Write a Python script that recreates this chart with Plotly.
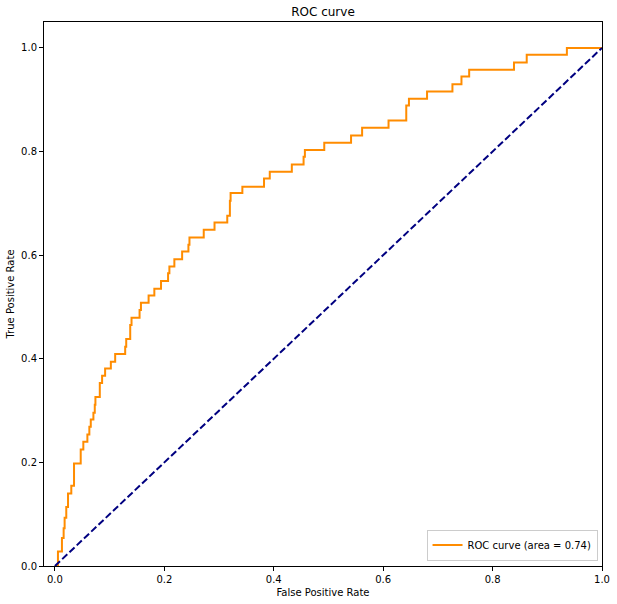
import plotly.graph_objects as go

# ROC step corners (false positive rate, true positive rate)
fpr = [0.0, 0.0055, 0.0128, 0.0159, 0.0177, 0.0207, 0.0239, 0.0299, 0.0349,
       0.0471, 0.0519, 0.0593, 0.0629, 0.0655, 0.0703, 0.0728, 0.0740, 0.0820,
       0.0862, 0.0917, 0.1022, 0.1101, 0.1284, 0.1303, 0.1376, 0.1400, 0.1547,
       0.1572, 0.1712, 0.1817, 0.1939, 0.2068, 0.2092, 0.2183, 0.2325, 0.2440,
       0.2459, 0.2720, 0.2917, 0.3150, 0.3198, 0.3211, 0.3426, 0.3822, 0.3927,
       0.4330, 0.4545, 0.4569, 0.4923, 0.5413, 0.5615, 0.6098, 0.6422, 0.6471,
       0.6802, 0.7266, 0.7431, 0.7572, 0.8391, 0.8624, 0.9358, 1.0]
tpr = [0.0, 0.028, 0.054, 0.073, 0.093, 0.114, 0.140, 0.155, 0.198,
       0.225, 0.240, 0.254, 0.269, 0.283, 0.296, 0.311, 0.326, 0.353,
       0.367, 0.381, 0.394, 0.409, 0.423, 0.438, 0.465, 0.479, 0.494,
       0.508, 0.522, 0.535, 0.550, 0.565, 0.578, 0.592, 0.607, 0.620,
       0.634, 0.649, 0.663, 0.676, 0.705, 0.720, 0.732, 0.748, 0.761,
       0.775, 0.790, 0.803, 0.817, 0.831, 0.846, 0.860, 0.889, 0.902,
       0.916, 0.930, 0.945, 0.958, 0.972, 0.987, 1.0, 1.0]
roc_auc = 0.74
chance = [0.0, 1.0]
ticks = [0.0, 0.2, 0.4, 0.6, 0.8, 1.0]

FONT = "DejaVu Sans, sans-serif"

fig = go.Figure()
fig.add_trace(go.Scatter(
    x=fpr, y=tpr, mode="lines", line=dict(color="darkorange", width=2, shape="hv"),
    name=f"ROC curve (area = {roc_auc:.2f})"))
fig.add_trace(go.Scatter(
    x=chance, y=chance, mode="lines", showlegend=False,
    line=dict(color="navy", width=2, dash="7px,3px")))

axis = dict(showline=True, mirror=True, linecolor="black", linewidth=1,
            ticks="outside", ticklen=4, tickcolor="black", showgrid=False,
            zeroline=False, tickvals=ticks, tickformat=".1f", automargin=False,
            tickfont=dict(size=10, color="black"))
fig.update_layout(
    width=617, height=604, paper_bgcolor="white", plot_bgcolor="white",
    font=dict(family=FONT, size=10, color="black"),
    margin=dict(l=44, r=15, t=22, b=38),
    title=dict(text="ROC curve", x=0.5, xref="paper", y=1 - 12 / 604,
               yref="container", yanchor="middle", font=dict(size=12)),
    xaxis=dict(axis, range=[-0.02, 1.0],
               title=dict(text="False Positive Rate", standoff=4, font=dict(size=10))),
    yaxis=dict(axis, range=[0.0, 1.05],
               title=dict(text="True Positive Rate", standoff=4, font=dict(size=10))),
    legend=dict(x=0.992, y=0.01, xanchor="right", yanchor="bottom",
                bordercolor="#cccccc", borderwidth=1, bgcolor="rgba(255,255,255,0.8)",
                font=dict(size=10), itemwidth=30, tracegroupgap=0),
)
# the page body has a default 8px margin; drop it so the figure sits at the corner
fig.write_html("out.html", config={"displayModeBar": False},
               post_script="document.body.style.margin='0';")
